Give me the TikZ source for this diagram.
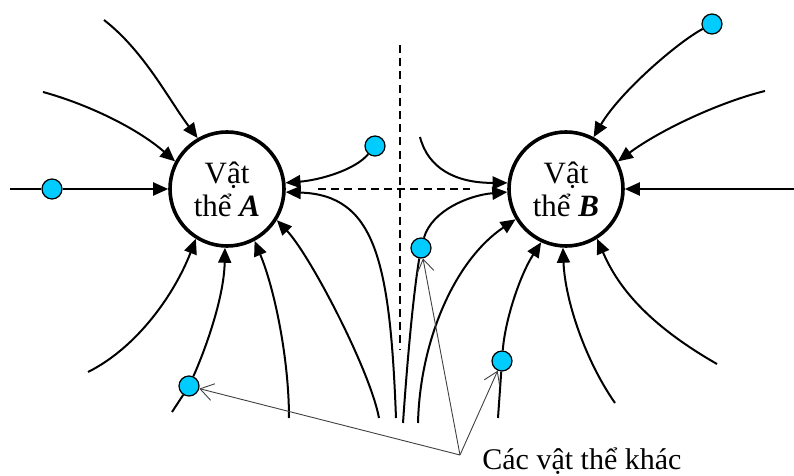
\documentclass[tikz,border=0pt]{standalone}
\usepackage{fontspec}
\setmainfont{Liberation Serif}
\usetikzlibrary{arrows.meta}
\definecolor{skyblue}{RGB}{0,204,255}
\begin{document}
\begin{tikzpicture}[x=0.5pt,y=-0.5pt,
  body/.style={circle, draw, line width=1.8pt, minimum size=57pt, inner sep=0pt,
    align=center, fill=white, font=\fontsize{15.5}{16.5}\selectfont},
  particle/.style={circle, draw, line width=0.6pt, fill=skyblue, minimum size=10pt, inner sep=0pt},
  field/.style={line width=1pt},
  pull/.style={field, -{Triangle[length=7.5pt,width=6.5pt]}},
  guide/.style={line width=1pt, dash pattern=on 4pt off 2.6pt},
  pointer/.style={line width=0.45pt, draw=black!75, -{Straight Barb[length=6.5pt,width=8.5pt]}},
]
\useasboundingbox (0,0) rectangle (794,476);

% the two bodies
\node[body] (A) at (227,189) {Vật\\thể \textbf{\textit{A}}};
\node[body] (B) at (566,189) {Vật\\thể \textbf{\textit{B}}};

% small bodies lying on the field lines
\node[particle] (p0) at (52,189) {};
\node[particle] (p1) at (189,386) {};
\node[particle] (p2) at (375,146) {};
\node[particle] (p3) at (421,248) {};
\node[particle] (p4) at (502,361) {};
\node[particle] (p5) at (712,24) {};

% loose ends of the field lines
\coordinate (s1) at (10,189);
\coordinate (s2) at (43,92);
\coordinate (s3) at (104,20);
\coordinate (s4) at (88,372);
\coordinate (s5) at (172,412);
\coordinate (s6) at (289,418);
\coordinate (s7) at (379,418);
\coordinate (s8) at (396,418);
\coordinate (s10) at (420,137);
\coordinate (s11) at (403,423);
\coordinate (s12) at (418,423);
\coordinate (s13) at (498,418);
\coordinate (s14) at (615,403);
\coordinate (s15) at (717,364);
\coordinate (s16) at (794,189);
\coordinate (s17) at (765,91);

% symmetry axes
\coordinate (v1) at (400,45);
\coordinate (v2) at (400,350);
\coordinate (h1) at (318,189);
\coordinate (h2) at (470,189);
\draw[guide] (v1) -- (v2);
\draw[guide] (h1) -- (h2);

% field lines ending on A
\draw[field] (s1) -- (p0);
\draw[pull] (p0) -- (A.west);
\draw[pull] (s2) .. controls (87,104) and (137,128) .. (A.152);
\draw[pull] (s3) .. controls (144,51) and (169,100) .. (A.120);
\draw[pull] (s4) .. controls (138,347) and (175,293) .. (A.238);
\draw[field] (s5) -- (p1);
\draw[pull] (p1) .. controls (203,355) and (224,300) .. (A.268);
\draw[pull] (s6) .. controls (289,360) and (275,290) .. (A.298);
\draw[pull] (s7) .. controls (370,370) and (310,255) .. (A.328);
\draw[pull] (s8) .. controls (390,260) and (375,195) .. (A.357);
\draw[pull] (p2) .. controls (355,170) and (320,180) .. (A.6);

% field lines ending on B
\draw[pull] (s10) .. controls (428,168) and (455,183) .. (B.174);
\draw[field] (s11) .. controls (408,350) and (414,290) .. (p3);
\draw[pull] (p3) .. controls (432,210) and (470,195) .. (B.183);
\draw[pull] (s12) .. controls (420,340) and (455,260) .. (B.211);
\draw[field] (s13) -- (p4);
\draw[pull] (p4) .. controls (505,320) and (520,275) .. (B.245.6);
\draw[pull] (s14) .. controls (585,360) and (565,300) .. (B.267);
\draw[pull] (s15) .. controls (640,320) and (615,280) .. (B.302);
\draw[pull] (s16) -- (B.east);
\draw[pull] (s17) .. controls (720,102) and (660,130) .. (B.28);
\draw[pull] (p5) .. controls (678,42) and (620,92) .. (B.62.5);

% label with its pointers
\coordinate (lab) at (460,455);
\node[anchor=base west, inner sep=0pt, font=\fontsize{15}{18}\selectfont] (others) at (482,469) {Các vật thể khác};
\draw[pointer] (lab) -- (p1);
\draw[pointer] (lab) -- (p3);
\draw[pointer] (lab) -- (p4);
\end{tikzpicture}
\end{document}
